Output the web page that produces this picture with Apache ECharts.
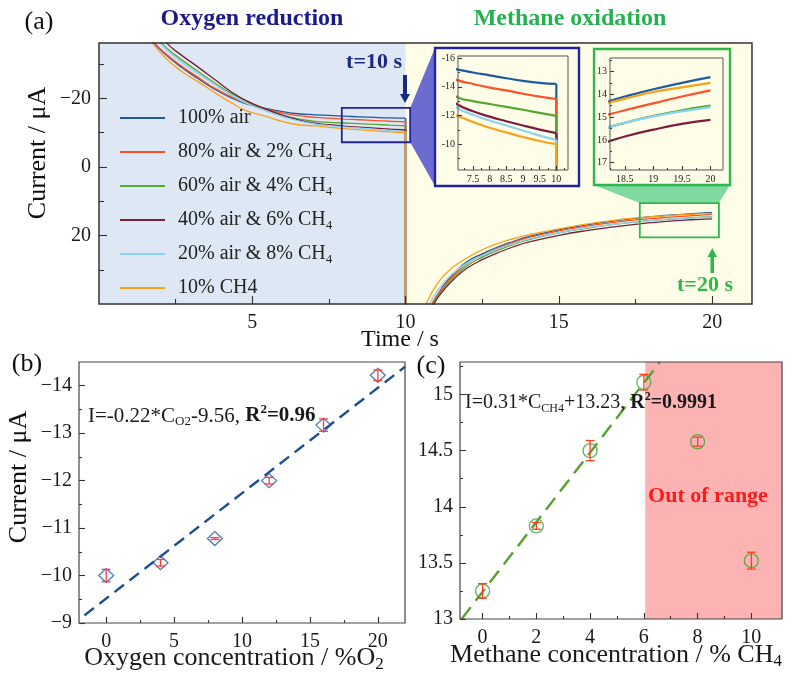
<!DOCTYPE html>
<html><head><meta charset="utf-8">
<script src="https://cdn.jsdelivr.net/npm/echarts@6/dist/echarts.min.js"></script>
<style>html,body{margin:0;padding:0;background:#fff}#c{width:795px;height:686px}</style>
</head><body><div id="c"></div>
<script>
// ---------------- DATA ----------------
const seriesNames = ['100% air','80% air & 2% CH4','60% air & 4% CH4','40% air & 6% CH4','20% air & 8% CH4','10% CH4'];
const seriesColors = ['#1f5a9e','#ff5028','#56a832','#7b1d3c','#8cd2f2','#f9a11b'];

// oxygen reduction (t < 10 s), [time s, current uA]
const decay100 = [[1.5,-39],[1.8,-36],[2.2,-32.5],[2.7,-29],[3.2,-25.9],[3.8,-22.5],[4.3,-20.2],[4.8,-18.4],[5.4,-17.1],[6.0,-16.1],[6.5,-15.5],[7.05,-15.2],[7.5,-15.0],[8.0,-14.8],[8.5,-14.6],[9.0,-14.42],[9.5,-14.28],[10,-14.2]];
const decay80  = [[1.5,-39.5],[1.82,-36],[2.2,-32.8],[2.7,-29.3],[3.2,-26.3],[3.8,-22.8],[4.3,-20.5],[4.8,-18.7],[5.4,-17.0],[6.0,-15.7],[6.5,-14.95],[7.05,-14.45],[7.5,-14.2],[8.0,-13.95],[8.5,-13.75],[9.0,-13.52],[9.5,-13.32],[10,-13.15]];
const decay60  = [[1.7,-40],[2.05,-36],[2.5,-32.5],[3.2,-28.0],[3.8,-24.3],[4.3,-21.5],[4.8,-19.2],[5.4,-16.9],[6.0,-15.1],[6.5,-14.0],[7.05,-13.26],[7.5,-13.0],[8.0,-12.8],[8.5,-12.6],[9.0,-12.4],[9.5,-12.18],[10,-11.98]];
const decay40  = [[1.9,-40],[2.22,-36],[2.7,-32.5],[3.2,-29.3],[3.8,-25.3],[4.3,-22.0],[4.8,-19.3],[5.4,-17.0],[6.0,-15.0],[6.5,-13.7],[7.05,-12.75],[7.5,-12.3],[8.0,-11.92],[8.5,-11.6],[9.0,-11.3],[9.5,-11.02],[10,-10.77]];
const decay20  = [[1.65,-40],[2.0,-36],[2.5,-31.8],[3.2,-27.4],[3.8,-23.8],[4.3,-21.0],[4.8,-18.6],[5.4,-16.4],[6.0,-14.6],[6.5,-13.4],[7.05,-12.5],[7.5,-12.05],[8.0,-11.65],[8.5,-11.3],[9.0,-10.95],[9.5,-10.6],[10,-10.3]];
const decay0   = [[1.45,-40],[1.75,-36],[2.2,-31.5],[2.7,-27.8],[3.2,-25.0],[3.8,-21.5],[4.3,-18.8],[4.8,-16.4],[5.4,-14.9],[6.0,-13.2],[6.5,-12.3],[7.05,-11.95],[7.5,-11.55],[8.0,-11.15],[8.5,-10.82],[9.0,-10.5],[9.5,-10.22],[10,-10.0]];

// methane oxidation (t > 10 s)
const rise100 = [[10.55,47],[10.87,40],[11.2,35],[11.6,30.8],[12.0,27.6],[12.5,25.3],[13.0,23.3],[13.5,21.7],[14.0,20.3],[15.0,18.3],[16.0,16.7],[17.0,15.5],[17.64,14.8],[18.24,14.29],[18.5,14.1],[19.0,13.78],[19.5,13.5],[20,13.25]];
const rise80  = [[10.55,47],[10.85,40],[11.2,35.3],[11.6,31.3],[12.0,28.2],[12.5,25.8],[13.0,23.7],[13.5,22.0],[14.0,20.6],[15.0,18.6],[16.0,17.1],[17.0,15.9],[17.64,15.3],[18.24,14.87],[18.5,14.7],[19.0,14.4],[19.5,14.1],[20,13.83]];
const rise60  = [[10.6,47],[10.88,40],[11.2,35.8],[11.6,31.8],[12.0,28.8],[12.5,26.3],[13.0,24.3],[13.5,22.6],[14.0,21.2],[15.0,19.2],[16.0,17.7],[17.0,16.5],[17.64,15.9],[18.24,15.43],[18.5,15.25],[19.0,14.95],[19.5,14.7],[20,14.5]];
const rise40  = [[10.65,47],[10.92,40],[11.25,35.8],[11.65,32.0],[12.0,29.5],[12.5,27.0],[13.0,25.0],[13.5,23.3],[14.0,21.9],[15.0,19.9],[16.0,18.4],[17.0,17.2],[17.64,16.55],[18.24,16.05],[18.5,15.85],[19.0,15.55],[19.5,15.3],[20,15.12]];
const rise20  = [[10.5,46],[10.77,40],[11.1,35.3],[11.5,31.3],[12.0,28.0],[12.5,25.8],[13.0,23.9],[13.5,22.4],[14.0,21.0],[15.0,19.1],[16.0,17.6],[17.0,16.5],[17.64,15.9],[18.24,15.43],[18.5,15.25],[19.0,14.97],[19.5,14.75],[20,14.56]];
const rise0   = [[10.4,46],[10.67,40],[11.0,34.5],[11.45,29.9],[12.0,26.5],[12.5,24.1],[13.0,22.3],[13.5,20.9],[14.0,19.8],[15.0,18.0],[16.0,16.5],[17.0,15.3],[17.64,14.75],[18.24,14.35],[18.5,14.2],[19.0,13.9],[19.5,13.7],[20,13.5]];

const decayCurves = [decay100, decay80, decay60, decay40, decay20, decay0];
const riseCurves  = [rise100, rise80, rise60, rise40, rise20, rise0];
const dropEnd = 45; // off-scale end of the switch at t = 10 s

// zoom boxes on panel (a): [tmin,tmax], [vmin,vmax]
const box1T = [7.92, 10.15], box1V = [-17.2, -7.2];
const box2T = [17.64, 20.22], box2V = [10.5, 20.5];

// panel (b)
const o2Conc    = [0, 4, 8, 12, 16, 20];
const o2Current = [-10.0, -10.27, -10.78, -12.0, -13.17, -14.22];
const o2Err     = [0.13, 0.07, 0.02, 0.07, 0.13, 0.11];
const o2Fit     = [[-1.6, -9.16], [22, -14.4]];

// panel (c)
const ch4Conc    = [0, 2, 4, 6, 8, 10];
const ch4Current = [13.25, 13.83, 14.5, 15.11, 14.58, 13.52];
const ch4Err     = [0.065, 0.03, 0.09, 0.07, 0.04, 0.075];
const ch4Fit     = [[-0.78, 13.0], [6.6, 15.29]];
const outOfRange = [6.05, 11.14];

// tick values
const aXTicks=[5,10,15,20], aXMinor=[2.5,7.5,12.5,17.5], aYTicks=[-20,0,20], aYMinor=[-30,-10,10,30];
const i1XTicks=[7.5,8,8.5,9,9.5,10], i1XMinor=[7.25,7.75,8.25,8.75,9.25,9.75,10.25], i1YTicks=[-16,-14,-12,-10], i1YMinor=[-15,-13,-11,-9];
const i2XTicks=[18.5,19,19.5,20], i2XMinor=[18.25,18.75,19.25,19.75], i2YTicks=[13,14,15,16,17], i2YMinor=[12.5,13.5,14.5,15.5,16.5];
const bXTicks=[0,5,10,15,20], bXMinor=[2.5,7.5,12.5,17.5], bYTicks=[-14,-13,-12,-11,-10,-9], bYMinor=[-13.5,-12.5,-11.5,-10.5,-9.5];
const cXTicks=[0,2,4,6,8,10], cXMinor=[1,3,5,7,9], cYTicks=[13,13.5,14,14.5,15], cYMinor=[13.25,13.75,14.25,14.75,15.25];

// ---------------- LAYOUT / STYLE ----------------
const FONT = '"Liberation Serif","Times New Roman",serif';
const GR = [
  {left:99, top:43, width:653, height:261},   // a
  {left:458, top:56, width:110, height:114},  // inset 1
  {left:610, top:58, width:113, height:112},  // inset 2
  {left:79, top:362, width:326, height:261},  // b
  {left:460, top:362, width:322, height:257}  // c
];
const minusFmt = v => v < 0 ? '\u2212' + Math.abs(v) : String(v);
const hyphFmt = v => String(v);

function axes(dim, g, min, max, inverse, major, minor, o) {
  const base = {type:'value', gridIndex:g, min, max, inverse, z:5,
    position: dim === 'x' ? 'bottom' : 'left', offset:0,
    splitLine:{show:false}, axisLine:{show:false, onZero:false}};
  const mj = Object.assign({}, base, {
    axisTick:{show:true, inside:true, length:o.tl, customValues:major, lineStyle:{color:'#333', width:1.1}},
    axisLabel:{show:true, customValues:major, margin:o.m, fontFamily:FONT, fontSize:o.fs, color:'#1a1a1a', formatter:o.fmt}
  });
  const mn = Object.assign({}, base, {
    axisTick:{show:true, inside:true, length:o.tm, customValues:minor, lineStyle:{color:'#333', width:1.1}},
    axisLabel:{show:false}
  });
  return [mj, mn];
}
const xAxis = [].concat(
  axes('x',0,0,21.3,false,aXTicks,aXMinor,{tl:8,tm:5,m:9,fs:20,fmt:minusFmt}),
  axes('x',1,7.05,10.35,false,i1XTicks,i1XMinor,{tl:4,tm:2,m:4,fs:10,fmt:hyphFmt}),
  axes('x',2,18.24,20.22,false,i2XTicks,i2XMinor,{tl:4,tm:2,m:4,fs:10,fmt:hyphFmt}),
  axes('x',3,-2,22,false,bXTicks,bXMinor,{tl:6,tm:3,m:9,fs:20,fmt:minusFmt}),
  axes('x',4,-0.84,11.14,false,cXTicks,cXMinor,{tl:6,tm:3,m:9,fs:20,fmt:minusFmt})
);
const yAxis = [].concat(
  axes('y',0,-36.1,39.9,true,aYTicks,aYMinor,{tl:8,tm:5,m:8,fs:20,fmt:minusFmt}),
  axes('y',1,-16.15,-8.2,true,i1YTicks,i1YMinor,{tl:4,tm:2,m:3,fs:10,fmt:hyphFmt}),
  axes('y',2,12.41,17.32,true,i2YTicks,i2YMinor,{tl:4,tm:2,m:3,fs:10,fmt:hyphFmt}),
  axes('y',3,-14.5,-9,true,bYTicks,bYMinor,{tl:6,tm:3,m:7,fs:20,fmt:minusFmt}),
  axes('y',4,13,15.29,false,cYTicks,cYMinor,{tl:6,tm:3,m:7,fs:20,fmt:minusFmt})
);

const series = [];
// background region of panel (a)
series.push({type:'line', xAxisIndex:0, yAxisIndex:0, data:[], z:1, silent:true,
  markArea:{silent:true, data:[[{xAxis:0, itemStyle:{color:'#dee8f4'}},{xAxis:10}]]}});

function line(i, data, g, smooth, w) {
  return {type:'line', name:seriesNames[i], xAxisIndex:2*g, yAxisIndex:2*g, data,
    smooth: smooth ? 0.5 : false, symbol:'none', showSymbol:false,
    lineStyle:{color:seriesColors[i], width:w}, itemStyle:{color:seriesColors[i]}, z:3, silent:true, clip:true};
}
seriesNames.forEach((n, i) => {
  const d = decayCurves[i], last = d[d.length-1];
  const drop = [last, [last[0], dropEnd]];
  series.push(line(i, d, 0, true, 1.3));
  series.push(line(i, drop, 0, false, 1.6));
  series.push(line(i, riseCurves[i], 0, true, 1.3));
  series.push(line(i, d, 1, true, 2.2));
  series.push(line(i, drop, 1, false, 2.2));
  series.push(line(i, riseCurves[i], 2, true, 2.2));
});

function errBars(xi, data, color) {
  return {type:'custom', xAxisIndex:xi, yAxisIndex:xi, data, z:6, silent:true,
    renderItem:(p, api) => {
      const x = api.value(0), y = api.value(1), e = api.value(2);
      const a = api.coord([x, y + e]), b = api.coord([x, y - e]);
      const w = 4.5, st = {stroke:color, lineWidth:1.3};
      return {type:'group', children:[
        {type:'line', shape:{x1:a[0], y1:a[1], x2:b[0], y2:b[1]}, style:st},
        {type:'line', shape:{x1:a[0]-w, y1:a[1], x2:a[0]+w, y2:a[1]}, style:st},
        {type:'line', shape:{x1:b[0]-w, y1:b[1], x2:b[0]+w, y2:b[1]}, style:st}
      ]};
    }};
}
// panel (b)
series.push({type:'line', xAxisIndex:6, yAxisIndex:6, data:o2Fit, symbol:'none', z:3, silent:true,
  lineStyle:{color:'#1d4f8e', width:2.4, type:[12,7]}});
series.push({type:'scatter', xAxisIndex:6, yAxisIndex:6, data:o2Conc.map((c,i)=>[c,o2Current[i]]),
  symbol:'diamond', symbolSize:[15,14], z:4, silent:true,
  itemStyle:{color:'rgba(0,0,0,0)', borderColor:'#2b5ba8', borderWidth:1.3}});
series.push(errBars(6, o2Conc.map((c,i)=>[c,o2Current[i],o2Err[i]]), '#ff3a3a'));
// panel (c)
series.push({type:'line', xAxisIndex:8, yAxisIndex:8, data:ch4Fit, symbol:'none', z:3, silent:true,
  lineStyle:{color:'#58a030', width:2.4, type:[15,8]},
  markArea:{silent:true, itemStyle:{color:'#fdb3b3'}, data:[[{xAxis:outOfRange[0]},{xAxis:outOfRange[1]}]]}});
series.push({type:'scatter', xAxisIndex:8, yAxisIndex:8, data:ch4Conc.map((c,i)=>[c,ch4Current[i]]),
  symbol:'circle', symbolSize:14, z:4, silent:true,
  itemStyle:{color:'rgba(0,0,0,0)', borderColor:'#45a33a', borderWidth:1.4}});
series.push(errBars(8, ch4Conc.map((c,i)=>[c,ch4Current[i],ch4Err[i]]), '#ff4020'));

const grid = GR.map((g, i) => Object.assign({}, g, {show: i === 0, backgroundColor: i === 0 ? '#fefee8' : 'transparent',
  borderWidth:0, containLabel:false, outerBoundsMode:'none'}));

const option = {
  animation:false,
  backgroundColor:'#ffffff',
  grid, xAxis, yAxis, series,
  legend:{
    data:seriesNames, orient:'vertical', left:120, top:106, padding:0, itemGap:10,
    itemWidth:45, itemHeight:2, icon:'rect', selectedMode:false,
    formatter: n => n === '10% CH4' ? n : n.replace(/CH4$/, 'CH{sub|4}'),
    textStyle:{fontFamily:FONT, fontSize:20, color:'#222', lineHeight:24, padding:[0,0,0,8],
      rich:{sub:{fontFamily:FONT, fontSize:13, color:'#222', lineHeight:14, verticalAlign:'bottom'}}}
  }
};

const chart = echarts.init(document.getElementById('c'), null, {renderer:'canvas'});
chart.setOption(option);

// ---------------- ANNOTATIONS ----------------
const px = (ai, pt) => chart.convertToPixel({xAxisIndex:ai, yAxisIndex:ai}, pt);
const b1a = px(0, [box1T[0], box1V[0]]), b1b = px(0, [box1T[1], box1V[1]]);
const b2a = px(0, [box2T[0], box2V[0]]), b2b = px(0, [box2T[1], box2V[1]]);
const F1 = {x:435, y:48, w:144, h:138}, F2 = {x:594, y:49, w:136, h:136};
const navy = '#1b2a80', green = '#2db84d';

function frame(g, color, w) {
  return {type:'rect', z:100, shape:{x:g.left, y:g.top, width:g.width, height:g.height},
    style:{fill:null, stroke:color, lineWidth:w}, silent:true};
}
function txt(x, y, text, font, color, extra) {
  return Object.assign({type:'text', x, y, z:100, silent:true,
    style:Object.assign({text, font, fill:color, align:'center', verticalAlign:'middle'}, extra && extra.style || {})},
    extra && extra.el || {});
}
const subRich = size => ({
  n:{fontFamily:FONT, fontSize:size, fill:'#1a1a1a', lineHeight:size+4},
  b:{fontFamily:FONT, fontSize:size, fontWeight:'bold', fill:'#1a1a1a', lineHeight:size+4},
  sub:{fontFamily:FONT, fontSize:Math.round(size*0.62), fill:'#1a1a1a', lineHeight:12, verticalAlign:'bottom'},
  sup:{fontFamily:FONT, fontSize:Math.round(size*0.62), fill:'#1a1a1a', fontWeight:'bold', lineHeight:12, verticalAlign:'top'}
});

const graphic = [
  // trapezoids
  {type:'polygon', z:10, silent:true, shape:{points:[[b1b[0], b1a[1]],[F1.x, F1.y],[F1.x, F1.y+F1.h],[b1b[0], b1b[1]]]},
    style:{fill:'#6b6bd0'}},
  {type:'polygon', z:10, silent:true, shape:{points:[[F2.x, F2.y+F2.h],[F2.x+F2.w, F2.y+F2.h],[b2b[0], b2a[1]],[b2a[0], b2a[1]]]},
    style:{fill:'#80d9a0'}},
  // zoom boxes
  {type:'rect', z:20, silent:true, shape:{x:b1a[0], y:b1a[1], width:b1b[0]-b1a[0], height:b1b[1]-b1a[1]},
    style:{fill:null, stroke:'#2323a0', lineWidth:1.8}},
  {type:'rect', z:20, silent:true, shape:{x:b2a[0], y:b2a[1], width:b2b[0]-b2a[0], height:b2b[1]-b2a[1]},
    style:{fill:null, stroke:green, lineWidth:1.8}},
  // inset frames
  {type:'rect', z:20, silent:true, shape:{x:F1.x, y:F1.y, width:F1.w, height:F1.h}, style:{fill:null, stroke:'#2323a0', lineWidth:2.4}},
  {type:'rect', z:20, silent:true, shape:{x:F2.x, y:F2.y, width:F2.w, height:F2.h}, style:{fill:null, stroke:green, lineWidth:2.4}},
  // plot frames
  frame(GR[0], '#333', 1.5), frame(GR[1], '#555', 1), frame(GR[2], '#555', 1), frame(GR[3], '#444', 1.2), frame(GR[4], '#444', 1.2),
  // arrows
  {type:'polygon', z:20, silent:true, shape:{points:[[403,75],[407,75],[407,94],[410,94],[405,103],[400,94],[403,94]]}, style:{fill:navy}},
  {type:'polygon', z:20, silent:true, shape:{points:[[710.5,273],[714,273],[714,257],[717,257],[712.3,248],[707.5,257],[710.5,257]]}, style:{fill:green}},
  // texts
  txt(39, 22, '(a)', '26px ' + FONT, '#111'),
  txt(252, 19, 'Oxygen reduction', 'bold 24px ' + FONT, '#1a1a8e'),
  txt(570, 19, 'Methane oxidation', 'bold 24px ' + FONT, '#26b14f'),
  txt(402, 62, 't=10 s', 'bold 22px ' + FONT, navy, {style:{align:'right'}}),
  txt(705, 285, 't=20 s', 'bold 22px ' + FONT, green),
  txt(38, 153, 'Current / \u03bcA', '26px ' + FONT, '#111', {el:{rotation:Math.PI/2}}),
  txt(400, 340, 'Time / s', '24px ' + FONT, '#111'),
  txt(27, 364, '(b)', '26px ' + FONT, '#111'),
  txt(19, 477, 'Current / \u03bcA', '26px ' + FONT, '#111', {el:{rotation:Math.PI/2}}),
  txt(234, 658, '{n|Oxygen concentration / %O}{sub|2}', '26px ' + FONT, '#111',
    {style:{rich:Object.assign(subRich(26), {sub:{fontFamily:FONT, fontSize:17, fill:'#111', lineHeight:14, verticalAlign:'bottom'}})}}),
  txt(431, 366, '(c)', '26px ' + FONT, '#111'),
  txt(616, 655, '{n|Methane concentration / % CH}{sub|4}', '26px ' + FONT, '#111',
    {style:{rich:Object.assign(subRich(26), {sub:{fontFamily:FONT, fontSize:17, fill:'#111', lineHeight:14, verticalAlign:'bottom'}})}}),
  txt(88, 416, '{n|I=-0.22*C}{sub|O2}{n|-9.56, }{b|R}{sup|2}{b|=0.96}', '21px ' + FONT, '#1a1a1a',
    {style:{align:'left', rich:subRich(21)}}),
  txt(465, 403, '{n|I=0.31*C}{sub|CH4}{n|+13.23, }{b|R}{sup|2}{b|=0.9991}', '20px ' + FONT, '#1a1a1a',
    {style:{align:'left', rich:subRich(20)}}),
  txt(708, 496, 'Out of range', 'bold 22px ' + FONT, '#ff1a1a')
];
chart.setOption({graphic});
</script></body></html>
